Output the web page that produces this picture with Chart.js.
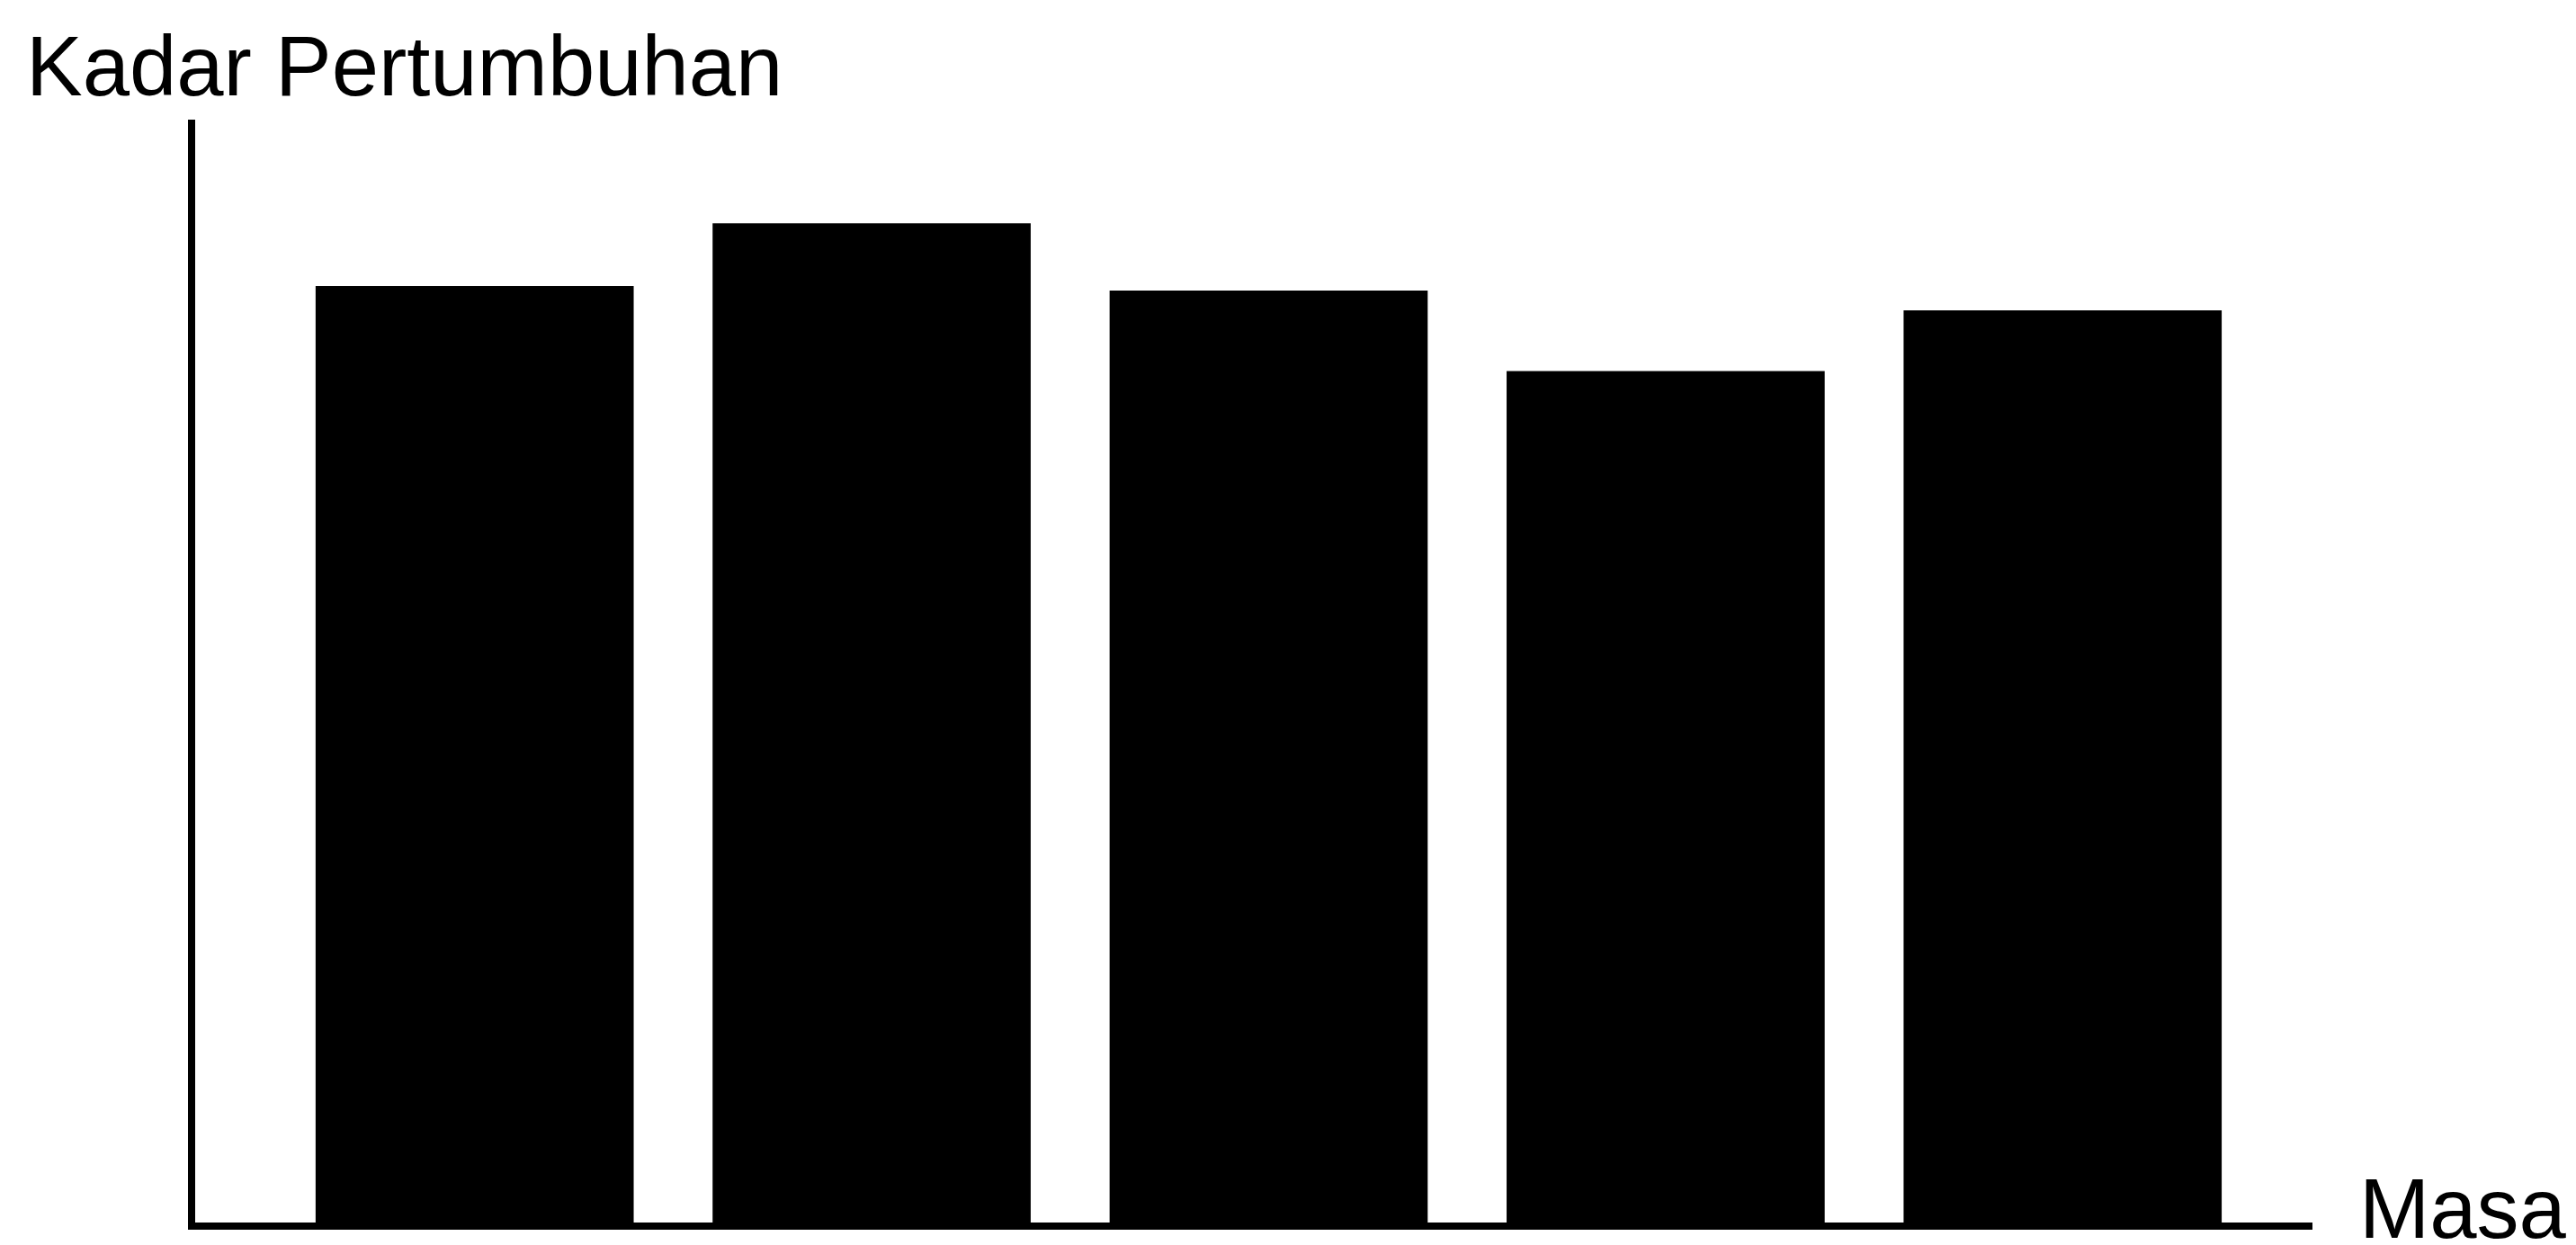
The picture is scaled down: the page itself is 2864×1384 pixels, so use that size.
<!DOCTYPE html>
<html>
<head>
<meta charset="utf-8">
<title>Kadar Pertumbuhan</title>
<script src="https://cdn.jsdelivr.net/npm/chart.js@4/dist/chart.umd.min.js"></script>
<style>
    html, body { margin: 0; padding: 0; background: #ffffff; }
    #wrap { width: 2864px; height: 1384px; position: relative; }
</style>
</head>
<body>
<div id="wrap"><canvas id="growthChart"></canvas></div>
<script>
// data (no units shown, axis scaled 0-100)
const periods = [1, 2, 3, 4, 5];
const growthRate = [85.2, 90.9, 84.8, 77.5, 83.0];

const yTitle = 'Kadar Pertumbuhan';
const xTitle = 'Masa';

const axisFont = '94px "Liberation Sans", Arial, sans-serif';

// draws the two axis names where the picture has them
const axisNames = {
    id: 'axisNames',
    afterDraw(chart) {
        const ctx = chart.ctx;
        const area = chart.chartArea;
        ctx.save();
        ctx.fillStyle = '#000000';
        ctx.font = axisFont;
        ctx.textAlign = 'left';
        ctx.textBaseline = 'alphabetic';
        ctx.fillText(yTitle, 29, area.top - 31);
        ctx.fillText(xTitle, area.right + 53, area.bottom + 13);
        ctx.restore();
    }
};

const ctx = document.getElementById('growthChart').getContext('2d');
const growthChart = new Chart(ctx, {
    type: 'bar',
    data: {
        labels: periods,
        datasets: [{
            label: yTitle,
            data: growthRate,
            backgroundColor: '#000000',
            borderWidth: 0,
            barThickness: 353
        }]
    },
    options: {
        responsive: true,
        maintainAspectRatio: false,
        animation: false,
        layout: {
            padding: { left: 213, right: 294, top: 137, bottom: 21 }
        },
        scales: {
            x: {
                type: 'linear',
                offset: false,
                min: 0.287,
                max: 5.627,
                ticks: { display: false },
                grid: { display: false, drawTicks: false },
                border: { display: true, color: '#000000', width: 8 }
            },
            y: {
                min: 0,
                max: 100,
                ticks: { display: false },
                grid: { display: false, drawTicks: false },
                border: { display: true, color: '#000000', width: 8 }
            }
        },
        plugins: {
            legend: { display: false },
            tooltip: { enabled: false },
            title: { display: false }
        }
    },
    plugins: [axisNames]
});
</script>
</body>
</html>
